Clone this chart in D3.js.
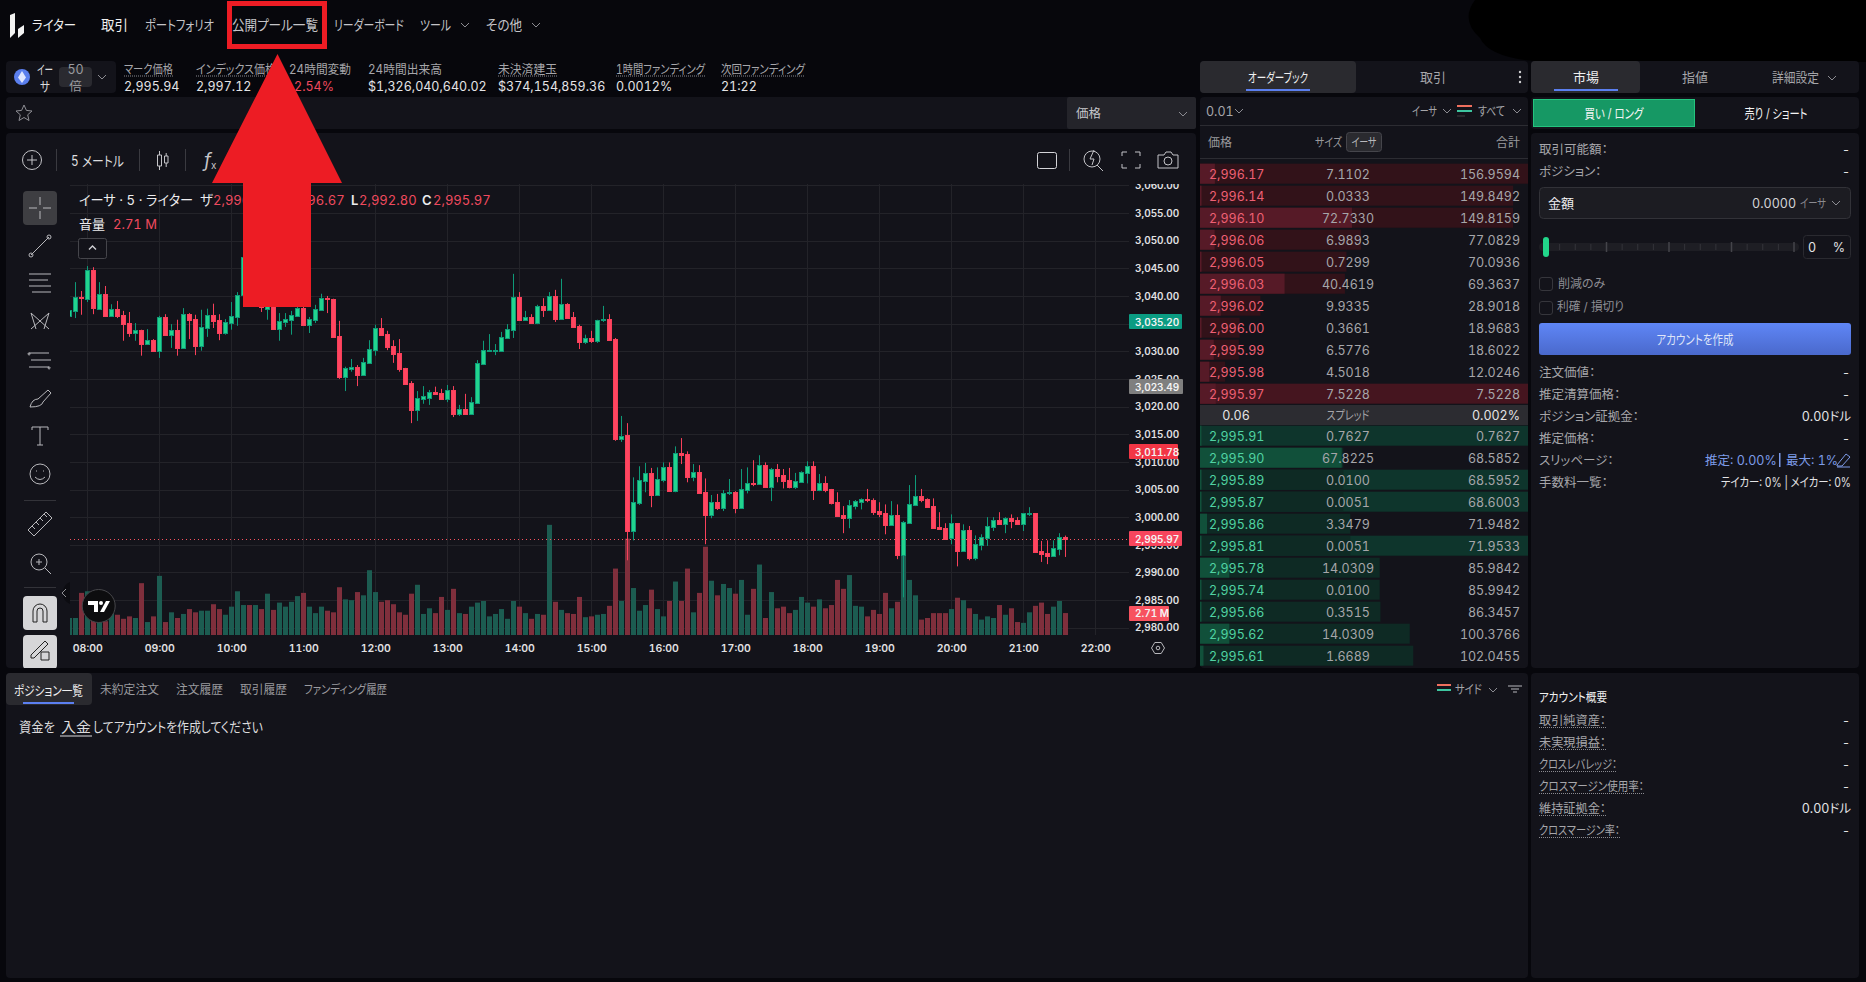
<!DOCTYPE html>
<html lang="ja">
<head>
<meta charset="utf-8">
<title>ライター</title>
<script src="https://cdn.jsdelivr.net/npm/d3@7"></script>
<style>
  html, body { margin: 0; background: #07070c; overflow: hidden; }
  svg { display: block; }
  text { font-family: Inter, "Noto Sans CJK JP", sans-serif; font-feature-settings: "palt", "tnum"; }
</style>
</head>
<body>
<div id="app"></div>
<script>
// Candles, 5 minutes each, the first one starts at 07:45
const opens = [3036.4,3037.3,3039.8,3039.5,3044.7,3037.7,3040.4,3036.4,3037.7,3036.6,3035.1,3033.3,3033.9,3031.3,3032.0,3030.1,3036.2,3033.0,3033.9,3030.6,3036.7,3035.8,3031.0,3034.2,3036.6,3035.7,3033.3,3035.1,3036.2,3040.2,3046.0,3041.0,3043.0,3037.5,3040.0,3034.0,3035.3,3035.7,3036.4,3037.8,3034.8,3035.7,3037.5,3039.6,3039.5,3032.8,3025.4,3026.8,3027.2,3025.7,3027.9,3030.2,3034.2,3033.1,3031.0,3029.7,3027.0,3024.3,3019.4,3021.4,3021.7,3022.7,3022.5,3021.4,3023.0,3018.7,3019.6,3018.7,3020.7,3027.7,3030.1,3030.1,3030.1,3032.4,3033.9,3039.8,3035.7,3036.2,3035.1,3038.2,3037.5,3040.0,3035.8,3038.6,3036.2,3034.6,3031.7,3032.4,3031.9,3035.7,3035.8,3032.2,3014.1,3014.8,2997.5,3002.5,3006.5,3008.0,3004.0,3006.7,3009.0,3004.7,3011.6,3011.4,3007.2,3008.1,3004.5,3000.4,3002.7,3001.6,3004.3,3004.5,3001.6,3004.9,3006.1,3006.0,3009.4,3005.4,3008.7,3007.6,3006.7,3005.4,3006.3,3008.0,3009.2,3004.9,3006.1,3005.1,3002.7,3000.4,2999.8,3002.0,3002.7,3003.3,3003.1,3001.1,3000.7,2998.6,3000.4,2993.1,2998.9,3002.2,3003.8,3003.3,3002.0,2998.2,2998.0,2996.2,2998.9,2993.9,2997.7,2992.6,2994.9,2996.2,2998.2,2999.5,2998.7,2999.8,2999.5,2998.7,3000.5,3000.7,2993.9,2993.5,2993.0,2994.2,2996.4];
const highs = [3038.1,3042.5,3040.9,3045.4,3045.2,3042.5,3041.8,3038.5,3039.1,3037.3,3037.1,3035.1,3033.9,3034.0,3032.2,3036.4,3036.7,3034.9,3035.7,3037.8,3036.9,3036.6,3037.5,3037.7,3038.6,3036.7,3035.8,3038.9,3040.7,3047.0,3047.2,3044.0,3044.0,3042.0,3041.0,3036.9,3036.9,3037.3,3038.6,3038.6,3036.2,3038.4,3040.4,3040.0,3039.5,3035.5,3027.2,3028.6,3027.5,3028.8,3032.0,3034.8,3036.0,3033.7,3032.0,3032.2,3027.0,3024.6,3022.8,3023.7,3023.0,3023.6,3023.2,3023.9,3023.7,3020.3,3022.3,3021.7,3028.4,3031.9,3033.1,3031.3,3033.5,3034.9,3044.0,3040.7,3037.3,3036.7,3038.4,3039.6,3040.7,3041.1,3043.1,3038.7,3037.1,3034.8,3033.0,3033.7,3035.7,3038.2,3036.7,3032.4,3018.3,3017.0,3007.2,3009.2,3009.8,3008.9,3009.0,3009.9,3009.9,3012.8,3014.3,3011.9,3009.6,3009.4,3007.0,3004.0,3004.2,3004.9,3006.9,3004.7,3008.7,3009.0,3010.3,3011.2,3009.9,3008.9,3009.6,3008.7,3008.9,3008.0,3008.3,3010.1,3010.1,3007.8,3007.4,3005.1,3004.5,3002.0,3003.1,3003.1,3003.4,3005.1,3003.4,3002.7,3002.3,3002.9,3002.3,2999.3,3005.8,3007.6,3005.1,3003.4,3003.4,3000.9,2998.9,3000.5,2998.9,2998.7,2998.4,2996.7,2996.9,3000.0,3000.0,3000.9,3000.0,3000.5,3000.0,3000.7,3001.8,3000.7,2995.7,2995.8,2995.8,2997.1,2996.67];
const lows = [3036.3,3036.0,3036.6,3038.9,3036.7,3037.6,3036.4,3036.4,3036.0,3031.9,3032.6,3031.9,3029.2,3031.3,3030.1,3028.8,3033.0,3030.6,3029.2,3030.6,3032.2,3029.3,3030.1,3032.6,3034.2,3032.0,3033.0,3033.9,3034.6,3039.6,3041.0,3040.0,3037.1,3035.7,3034.0,3031.9,3034.4,3033.0,3036.2,3034.8,3033.3,3035.1,3037.3,3036.9,3032.6,3025.0,3022.8,3026.3,3023.7,3025.7,3027.9,3029.2,3032.8,3030.2,3027.9,3026.3,3024.1,3017.0,3017.4,3020.5,3020.3,3022.1,3021.4,3020.8,3018.1,3018.3,3018.7,3018.5,3020.7,3027.5,3030.1,3029.3,3030.1,3032.4,3032.4,3035.7,3035.7,3035.1,3034.9,3036.2,3037.5,3035.3,3035.8,3036.0,3034.4,3030.4,3031.3,3031.5,3031.5,3035.3,3032.0,3013.8,3013.6,2992.2,2995.8,3002.2,3004.5,3001.8,3004.0,3006.3,3004.7,3004.5,3009.6,3006.3,3006.5,3004.3,2995.1,2999.8,3001.3,3001.1,3004.0,3000.7,3001.6,3004.3,3005.6,3006.0,3005.4,3002.9,3006.3,3005.2,3005.2,3005.1,3006.3,3006.1,3003.1,3004.7,3004.5,3002.3,3000.2,2997.1,2998.0,3001.4,3001.4,3002.7,3000.4,3000.0,2996.9,2998.6,2992.4,2985.5,2998.9,3002.0,3002.7,3001.8,2998.0,2997.8,2996.1,2995.1,2991.1,2993.9,2992.2,2992.2,2994.0,2994.8,2997.5,2998.7,2997.1,2998.0,2998.7,2997.5,3000.2,2993.7,2991.9,2991.5,2992.8,2993.1,2992.80];
const closes = [3037.4,3039.8,3039.7,3044.7,3037.8,3040.4,3036.4,3037.7,3036.4,3034.9,3033.3,3033.9,3031.3,3032.0,3030.1,3036.2,3033.0,3033.9,3030.6,3036.7,3035.7,3031.0,3034.4,3036.6,3035.5,3033.3,3035.3,3036.4,3040.2,3047.0,3041.5,3043.0,3038.0,3041.0,3034.0,3035.5,3035.8,3036.6,3037.8,3034.8,3035.8,3037.7,3039.6,3039.5,3032.6,3025.4,3027.0,3027.2,3025.7,3028.1,3030.4,3034.2,3033.0,3030.8,3029.5,3026.8,3024.1,3019.4,3021.6,3021.9,3022.7,3022.3,3021.4,3023.0,3018.7,3019.6,3018.7,3020.8,3027.9,3030.2,3030.2,3030.2,3032.6,3034.0,3039.8,3035.7,3036.2,3035.1,3038.2,3037.5,3040.0,3035.8,3038.6,3036.0,3034.4,3031.7,3032.4,3031.9,3035.7,3035.8,3032.0,3014.1,3014.7,2997.5,3002.7,3006.7,3008.0,3004.0,3006.9,3009.0,3004.7,3011.6,3011.2,3007.2,3008.1,3004.3,3000.4,3002.7,3001.6,3004.3,3004.5,3001.6,3005.1,3006.1,3006.0,3009.4,3005.4,3008.7,3007.4,3006.5,3005.4,3006.5,3008.1,3009.2,3004.9,3006.1,3004.9,3002.5,3000.2,2999.8,3002.2,3002.9,3003.3,3003.1,3000.9,3000.5,2998.6,3000.4,2993.1,2999.1,3002.3,3003.8,3003.1,3001.8,2998.0,2997.8,2996.1,2998.9,2993.9,2997.7,2992.6,2995.1,2996.4,2998.4,2999.5,2998.7,2999.8,2999.3,2998.7,3000.7,3000.7,2993.7,2993.3,2993.0,2994.4,2996.4,2995.97];
// Volume in millions
const volumes = [2.1,2.1,5.2,5.4,4.3,4.3,1.7,2.7,2.5,2.0,2.3,2.1,6.4,1.6,2.3,7.3,1.6,2.8,2.1,2.6,3.2,2.8,3.0,3.0,3.8,3.2,2.5,3.5,5.4,3.7,3.7,3.7,3.2,5.1,3.1,4.0,3.5,4.1,4.8,5.2,3.5,2.7,3.5,3.0,2.8,5.9,4.4,4.3,5.3,4.9,8.0,5.3,4.1,4.3,3.8,2.8,2.5,5.1,6.2,2.6,3.3,2.7,4.7,3.1,5.7,2.7,2.6,3.5,4.0,4.2,2.3,2.6,3.2,2.0,4.2,3.5,2.7,2.0,2.6,2.5,13.6,4.1,3.1,2.7,2.6,4.7,2.2,2.3,2.5,2.6,3.6,8.2,4.2,11.9,5.8,3.0,3.7,5.6,3.2,2.3,4.2,6.6,4.2,8.2,2.8,5.2,10.9,6.7,4.9,6.3,5.8,5.1,6.8,2.5,5.7,8.7,2.1,5.3,3.3,3.5,2.7,3.1,4.7,4.0,3.5,4.4,3.3,3.7,6.8,5.7,7.4,3.6,3.5,2.3,3.1,2.6,5.2,3.3,4.1,10.9,6.8,4.9,1.9,2.1,2.7,2.7,2.7,3.2,4.6,4.3,3.3,2.6,1.9,2.3,2.1,3.7,2.5,3.3,1.6,1.5,2.8,3.6,4.0,2.6,3.5,4.2,2.71];
const firstCandleHour = 7.75;
const hourTicks = [8,9,10,11,12,13,14,15,16,17,18,19,20,21,22];
const priceTicks = [3060,3055,3050,3045,3040,3035,3030,3025,3020,3015,3010,3005,3000,2995,2990,2985,2980];

// Order book
const askPrices = ["2,996.17","2,996.14","2,996.10","2,996.06","2,996.05","2,996.03","2,996.02","2,996.00","2,995.99","2,995.98","2,995.97"];
const askSizes = [7.1102,0.0333,72.7330,6.9893,0.7299,40.4619,9.9335,0.3661,6.5776,4.5018,7.5228];
const askTotals = [156.9594,149.8492,149.8159,77.0829,70.0936,69.3637,28.9018,18.9683,18.6022,12.0246,7.5228];
const bidPrices = ["2,995.91","2,995.90","2,995.89","2,995.87","2,995.86","2,995.81","2,995.78","2,995.74","2,995.66","2,995.62","2,995.61"];
const bidSizes = [0.7627,67.8225,0.0100,0.0051,3.3479,0.0051,14.0309,0.0100,0.3515,14.0309,1.6689];
const bidTotals = [0.7627,68.5852,68.5952,68.6003,71.9482,71.9533,85.9842,85.9942,86.3457,100.3766,102.0455];
const askFlashRows = [10];
const bidFlashRows = [0,2,3,5];

// Header stats
const statLabels = ["マーク価格","インデックス価格","24時間変動","24時間出来高","未決済建玉","1時間ファンディング","次回ファンディング"];
const statValues = ["2,995.94","2,997.12","-2.54%","$1,326,040,640.02","$374,154,859.36","0.0012%","21:22"];
const statDotted = [true,true,false,false,true,true,true];
const navItems = ["取引","ポートフォリオ","公開プール一覧","リーダーボード","ツール","その他"];
const historyTabs = ["未約定注文","注文履歴","取引履歴","ファンディング履歴"];
const orderRowsTop = ["取引可能額：","ポジション："];
const orderRowsBottom = ["注文価値：","推定清算価格：","ポジション証拠金：","推定価格：","スリッページ：","手数料一覧："];
const accountRows = ["取引純資産：","未実現損益：","クロスレバレッジ：","クロスマージン使用率：","維持証拠金：","クロスマージン率："];
const accountValues = ["-","-","-","-","0.00ドル","-"];

const W = 1866, H = 982;
const panelFill = "#13131a", tabFill = "#2a2a2f", blue = "#5b7ff0";
const greyText = "#a6a6aa", lightText = "#e4e4e6";
const upBody = "#22d48e", upEdge = "#0e9a78", downBody = "#ff4560", downEdge = "#f7405a";

const svg = d3.select("#app").append("svg").attr("width", W).attr("height", H);
svg.append("rect").attr("width", W).attr("height", H).attr("fill", "#07070c");

function panel(x, y, w, h, fill = panelFill, r = 4) {
  return svg.append("rect").attr("x", x).attr("y", y).attr("width", w).attr("height", h).attr("rx", r).attr("fill", fill);
}

// text helper, w squeezes the text to the width it has in the screenshot
function label(x, y, s, o = {}) {
  const t = svg.append("text").attr("x", x).attr("y", y).attr("dy", "0.36em")
    .attr("font-size", o.size || 12.5)
    .attr("font-weight", o.weight || 400)
    .attr("fill", o.fill || greyText)
    .attr("text-anchor", o.anchor || "start")
    .text(s);
  if (o.w) t.attr("textLength", o.w).attr("lengthAdjust", "spacingAndGlyphs");
  return t;
}

function dotted(x1, x2, y, color = "#8a8a90") {
  svg.append("line").attr("x1", x1).attr("x2", x2).attr("y1", y).attr("y2", y)
    .attr("stroke", color).attr("stroke-dasharray", "1 1");
}

function icon(d, x, y, o = {}) {
  return svg.append("path").attr("d", d).attr("transform", `translate(${x},${y})`)
    .attr("fill", o.fill || "none").attr("stroke", o.stroke || "#b8b8bc").attr("stroke-width", o.sw || 1);
}

function chevron(x, y, color = "#8c8c92") {
  icon("M-4-2L0 2L4-2", x, y, { stroke: color });
}

// ---------- top bar ----------
icon("M10 15L15 13V33L10 38Z", 0, 0, { fill: "#f2f2f2", stroke: "none" });
icon("M18 29L24 25V33L18 38Z", 0, 0, { fill: "#f2f2f2", stroke: "none" });
label(32, 25, "ライター", { size: 14, fill: "#f0f0f0", w: 44 });
const navX = [101,145,232,334,420,486], navW = [27,69,86,70,31,36];
navItems.forEach((s, i) => label(navX[i], 25, s, { size: 14, fill: i == 0 ? "#f0f0f0" : "#c4c4c8", w: navW[i] }));
chevron(465, 25); chevron(536, 25);
svg.append("path").attr("d", "M1475 0Q1460 20 1480 38Q1490 60 1550 62H1866V0Z").attr("fill", "#000");

// ---------- symbol and stats strip ----------
panel(6, 61, 110, 32);
svg.append("circle").attr("cx", 22).attr("cy", 77).attr("r", 8).attr("fill", "#5b7fee");
icon("M0-6L4 0.5L0 6L-4 0.5Z", 22, 77, { fill: "#dfe6ff", stroke: "none" });
label(37, 69, "イー", { size: 13, fill: "#dcdcde", w: 16 });
label(40, 86, "サ", { size: 13, fill: "#dcdcde", w: 10 });
panel(59, 67, 33, 20, "#2a2a30");
label(75.5, 69, "50", { anchor: "middle", size: 12.5, fill: "#9a9a9e" });
label(75.5, 86, "倍", { anchor: "middle", size: 12.5, fill: "#9a9a9e" });
chevron(102, 77);
const statX = [124,196,289,368,498,616,721], statW = [49,80,62,74,59,89,84];
statLabels.forEach((s, i) => {
  label(statX[i], 69, s, { size: 12.5, w: statW[i] });
  if (statDotted[i]) dotted(statX[i], statX[i] + statW[i], 76);
});
statValues.forEach((s, i) => {
  if (i == 2) label(334, 86, s, { size: 12.5, anchor: "end", fill: "#ef4a5e" });
  else label(statX[i], 86, s, { size: 12.5, fill: lightText });
});

// ---------- favourite row ----------
panel(6, 97, 1190, 32);
icon("M0-8L2.4-2.6L8-2L3.7 1.8L5 7.5L0 4.5L-5 7.5L-3.7 1.8L-8-2L-2.4-2.6Z", 24, 113, { stroke: "#8e8e94" });
panel(1067, 97, 129, 32, "#24242a", 2);
label(1076, 113, "価格", { size: 12.5, fill: "#c8c8cc" });
chevron(1183, 114);

// ---------- chart panel ----------
panel(6, 133, 1190, 535);
const plot = { left: 70, right: 1129, top: 184, bottom: 635 };

const x = d3.scaleLinear().domain([8, 22]).range([87.3, 1095.3]);
const y = d3.scaleLinear().domain([3045, 2980]).range([268.3, 627.75]);
const vol = d3.scaleLinear().domain([0, 1]).range([plot.bottom, plot.bottom - 8.1]);
const candleX = i => Math.floor(x(firstCandleHour + i / 12));

const defs = svg.append("defs");
defs.append("clipPath").attr("id", "plotClip").append("rect")
  .attr("x", plot.left).attr("y", plot.top).attr("width", plot.right - plot.left).attr("height", plot.bottom - plot.top);
defs.append("clipPath").attr("id", "axisClip").append("rect")
  .attr("x", -10).attr("y", plot.top).attr("width", 80).attr("height", H);
defs.append("clipPath").attr("id", "toolClip").append("rect")
  .attr("x", 6).attr("y", 133).attr("width", 70).attr("height", 535);
const btnGrad = defs.append("linearGradient").attr("id", "btnGrad").attr("x2", 0).attr("y2", 1);
btnGrad.append("stop").attr("offset", 0).attr("stop-color", "#5f86f6");
btnGrad.append("stop").attr("offset", 1).attr("stop-color", "#4a69cc");

const plotG = svg.append("g").attr("clip-path", "url(#plotClip)");
plotG.append("g").selectAll("line").data(priceTicks).join("line")
  .attr("x1", plot.left).attr("x2", plot.right)
  .attr("y1", d => Math.round(y(d)) + 0.5).attr("y2", d => Math.round(y(d)) + 0.5)
  .attr("stroke", "#232329");
plotG.append("g").selectAll("line").data(hourTicks).join("line")
  .attr("x1", d => Math.floor(x(d)) + 0.5).attr("x2", d => Math.floor(x(d)) + 0.5)
  .attr("y1", plot.top).attr("y2", plot.bottom)
  .attr("stroke", "#232329");

const isUp = i => closes[i] >= opens[i];
const candleIdx = d3.range(opens.length);

plotG.append("g").selectAll("rect").data(candleIdx).join("rect")
  .attr("x", i => candleX(i) - 2).attr("width", 5)
  .attr("y", i => vol(volumes[i])).attr("height", i => plot.bottom - vol(volumes[i]))
  .attr("fill", i => isUp(i) ? "#1c6054" : "#85303e").attr("fill-opacity", 0.95);

// current price line
svg.append("line").attr("x1", plot.left).attr("x2", plot.right)
  .attr("y1", Math.round(y(closes[closes.length - 1])) + 0.5).attr("y2", Math.round(y(closes[closes.length - 1])) + 0.5)
  .attr("stroke", "#f7525f").attr("stroke-dasharray", "1 3");

plotG.append("g").selectAll("line").data(candleIdx).join("line")
  .attr("x1", i => candleX(i) + 0.5).attr("x2", i => candleX(i) + 0.5)
  .attr("y1", i => y(highs[i])).attr("y2", i => y(lows[i]))
  .attr("stroke", i => isUp(i) ? upEdge : downEdge);
plotG.append("g").selectAll("rect").data(candleIdx).join("rect")
  .attr("x", i => candleX(i) - 1.5).attr("width", 4)
  .attr("y", i => Math.round(y(Math.max(opens[i], closes[i]))) + 0.5)
  .attr("height", i => Math.max(1, Math.round(y(Math.min(opens[i], closes[i])) - y(Math.max(opens[i], closes[i])))))
  .attr("fill", i => isUp(i) ? upBody : downBody)
  .attr("stroke", i => isUp(i) ? upEdge : downEdge);

// price and time axes
const priceAxis = svg.append("g").attr("transform", `translate(${plot.right},0)`)
  .attr("clip-path", "url(#axisClip)")
  .call(d3.axisRight(y).tickValues(priceTicks).tickSize(0).tickPadding(6).tickFormat(d3.format(",.2f")));
const timeAxis = svg.append("g").attr("transform", "translate(0,636)")
  .call(d3.axisBottom(x).tickValues(hourTicks).tickSize(0).tickPadding(9).tickFormat(d => `${String(d).padStart(2, "0")}:00`));
[priceAxis, timeAxis].forEach(a => {
  a.select(".domain").remove();
  a.selectAll("text").attr("fill", "#e2e2e4").attr("font-weight", 600).attr("font-family", "Inter");
});
priceAxis.selectAll("text").attr("font-size", 10);
timeAxis.selectAll("text").attr("font-size", 10.5);

const priceTags = [
  { v: 3035.20, fill: "#0b9c82", w: 53 },
  { v: 3023.49, fill: "#7f7f7f", w: 54 },
  { v: 3011.78, fill: "#f23645", w: 49 },
  { v: 2995.97, fill: "#f7455d", w: 53 }
];
priceTags.forEach(d => {
  panel(plot.right, Math.round(y(d.v)) - 8, d.w, 15, d.fill, 1);
  label(plot.right + 6, y(d.v), d3.format(",.2f")(d.v), { size: 10, weight: 600, fill: "#f4f4f4" });
});
panel(plot.right, vol(2.71) - 7, 40, 15, "#f7525f", 1);
label(plot.right + 6, vol(2.71) + 0.5, "2.71 M", { size: 10, weight: 600, fill: "#f4f4f4" });
icon("M-6.5 0L-3.2-5.5H3.2L6.5 0L3.2 5.5H-3.2Z", 1158, 648);
svg.append("circle").attr("cx", 1158).attr("cy", 648).attr("r", 1.8).attr("fill", "none").attr("stroke", "#b8b8bc");

// chart legend
label(79, 200, "イーサ · 5 · ライター", { size: 13.5, fill: "#ececee", w: 114 });
label(200, 200, "ザ", { size: 13.5, fill: "#ececee" });
label(213, 200, "2,996.45", { size: 13, fill: "#ef4a5e" });
label(277, 200, "H", { size: 13, fill: "#ececee", weight: 600 });
label(287, 200, "2,996.67", { size: 13, fill: "#ef4a5e" });
label(351, 200, "L", { size: 13, fill: "#ececee", weight: 600 });
label(359, 200, "2,992.80", { size: 13, fill: "#ef4a5e" });
label(422, 200, "C", { size: 13, fill: "#ececee", weight: 600 });
label(433, 200, "2,995.97", { size: 13, fill: "#ef4a5e" });
label(79, 224, "音量", { size: 13, fill: "#ececee" });
label(113, 224, "2.71 M", { size: 13, fill: "#ef4a5e" });
svg.append("rect").attr("x", 78.5).attr("y", 238.5).attr("width", 28).attr("height", 20).attr("rx", 2)
  .attr("fill", panelFill).attr("stroke", "#45454b");
icon("M-3.5 1.5L0-2L3.5 1.5", 92.5, 248, { stroke: "#d0d0d4", sw: 1.4 });

// chart toolbar
const tb = { stroke: "#c4c4c8" };
svg.append("circle").attr("cx", 32).attr("cy", 160).attr("r", 9.5).attr("fill", "none").attr("stroke", "#c4c4c8");
icon("M-5 0H5M0-5V5", 32, 160, tb);
[56.5, 139.5, 185.5, 1069.5].forEach(sx => svg.append("line").attr("x1", sx).attr("x2", sx).attr("y1", 149).attr("y2", 171).attr("stroke", "#3a3a40"));
label(71, 161, "5 メートル", { size: 14, fill: "#dcdcde", w: 53 });
icon("M-3.5-5H0.5V6H-3.5ZM-1.5-9V-5M-1.5 6V10M3.5-4H7V3H3.5ZM5.2-7V-4M5.2 3V7", 161, 160, tb);
label(204, 160, "f", { size: 19, fill: "#c4c4c8" }).attr("font-style", "italic");
label(211, 165, "x", { size: 10, fill: "#c4c4c8" });
svg.append("rect").attr("x", 1037.5).attr("y", 152.5).attr("width", 19).attr("height", 16).attr("rx", 2).attr("fill", "none").attr("stroke", "#d4d4d8");
svg.append("circle").attr("cx", 1092).attr("cy", 159).attr("r", 8).attr("fill", "none").attr("stroke", "#c4c4c8");
icon("M5 6L11 12M2-9L-2 0H2L0 6", 1092, 159, tb);
icon("M-9-4V-8H-4M4-8H9V-4M9 4V8H4M-4 8H-9V4", 1131, 160, tb);
icon("M-10-5H-4L-2-8H3L5-5H10V8H-10Z", 1168, 160, tb);
svg.append("circle").attr("cx", 1168).attr("cy", 161).attr("r", 4).attr("fill", "none").attr("stroke", "#c4c4c8");

// drawing tools on the left
const tools = svg.append("g").attr("clip-path", "url(#toolClip)");
const toolIcon = (d, ty) => tools.append("path").attr("d", d).attr("transform", `translate(40,${ty})`)
  .attr("fill", "none").attr("stroke", "#b8b8bc");
tools.append("rect").attr("x", 23).attr("y", 191).attr("width", 34).attr("height", 34).attr("rx", 4).attr("fill", "#3e3e42");
toolIcon("M-11 0H-3M3 0H11M0-11V-3M0 3V11", 208);
toolIcon("M-9 9L9-9M-11 9a2 2 0 1 0 4 0a2 2 0 1 0 -4 0M7-9a2 2 0 1 0 4 0a2 2 0 1 0 -4 0", 246);
toolIcon("M-11-9H11M-11-3H8M-11 3H11M-8 9H11", 283);
toolIcon("M-9-8L-4 8M-9-8L9 8M9-8L-9 8M9-8L4 8", 321);
toolIcon("M-11-7H9M-9 0H11M-11 7H9M-11-7a1 1 0 1 0 0.1 0M9 7a1 1 0 1 0 0.1 0", 360);
toolIcon("M-10 9Q-8 1-2 1L8-8L11-5L3 4Q2 9-10 9Z", 398);
toolIcon("M-8-6V-9H8V-6M0-9V9M-3 9H3", 436);
toolIcon("M-10 0a10 10 0 1 0 20 0a10 10 0 1 0 -20 0M-4-3h1M3-3h1M-5 3Q0 8 5 3", 474);
tools.append("line").attr("x1", 24).attr("x2", 56).attr("y1", 500.5).attr("y2", 500.5).attr("stroke", "#333339");
toolIcon("M-12 6L6-12L12-6L-6 12ZM-8 2L-5 5M-4-2L-1 1M0-6L3-3M4-10L7-7", 524);
toolIcon("M-9 0a8 8 0 1 0 16 0a8 8 0 1 0 -16 0M5 6L11 12M-4 0H2M-1-3V3", 562);
tools.append("line").attr("x1", 24).attr("x2", 56).attr("y1", 587.5).attr("y2", 587.5).attr("stroke", "#333339");
tools.append("rect").attr("x", 23).attr("y", 596).attr("width", 34).attr("height", 34).attr("rx", 4).attr("fill", "#d6d6d8");
tools.append("path").attr("d", "M-7 9V-2a7 7 0 0 1 14 0V9H3V-2a3 3 0 0 0 -6 0V9Z").attr("transform", "translate(40,613)")
  .attr("fill", "none").attr("stroke", "#222");
tools.append("rect").attr("x", 23).attr("y", 635).attr("width", 34).attr("height", 34).attr("rx", 4).attr("fill", "#d6d6d8");
tools.append("path").attr("d", "M-8 7L6-7L9-4L-5 10H-8ZM2 4H10V12H2Z").attr("transform", "translate(39,648)")
  .attr("fill", "none").attr("stroke", "#222");
svg.append("path").attr("d", "M70 582a12 12 0 0 0 0 22Z").attr("fill", "#0c0c11");
icon("M2-4L-2 0L2 4", 64, 593, { stroke: "#8f8f94" });

// tradingview badge
svg.append("circle").attr("cx", 98.7).attr("cy", 606).attr("r", 16.5).attr("fill", "#0d0d0f").attr("stroke", "#47474b");
icon("M88 601H98V612H94V605H88Z", 0, 0, { fill: "#fff", stroke: "none" });
svg.append("circle").attr("cx", 101).attr("cy", 603).attr("r", 2).attr("fill", "#fff");
icon("M106 601H110L104 612H100Z", 0, 0, { fill: "#fff", stroke: "none" });

// ---------- order book ----------
panel(1200, 61, 328, 32);
panel(1200, 61, 156, 32, tabFill);
label(1278, 77, "オーダーブック", { anchor: "middle", size: 13, fill: "#f0f0f0", w: 60 });
panel(1246, 89, 64, 2, blue, 0);
label(1433, 77, "取引", { anchor: "middle", size: 13 });
[-5, 0, 5].forEach(dy => svg.append("circle").attr("cx", 1520).attr("cy", 77 + dy).attr("r", 1.2).attr("fill", "#d0d0d2"));

panel(1200, 97, 328, 571);
label(1206, 111, "0.01", { size: 12.5 });
chevron(1239, 111);
label(1412, 111, "イーサ", { size: 12.5, w: 25 });
chevron(1447, 111);
panel(1457, 105, 15, 2, "#ef6f5e", 0); panel(1457, 110, 15, 2, "#3ec6a0", 0); panel(1457, 115, 8, 2, "#2a2a2e", 0);
label(1478, 111, "すべて", { size: 12.5, w: 27 });
chevron(1517, 111);
svg.append("line").attr("x1", 1200).attr("x2", 1528).attr("y1", 125.5).attr("y2", 125.5).attr("stroke", "#2c2c32");
label(1208, 143, "価格", { size: 12, fill: "#9a9a9e" });
label(1315, 143, "サイズ", { size: 12, fill: "#9a9a9e", w: 27 });
svg.append("rect").attr("x", 1346.5).attr("y", 132.5).attr("width", 35).attr("height", 19).attr("rx", 3).attr("fill", "#2a2a2f").attr("stroke", "#45454b");
label(1364, 143, "イーサ", { anchor: "middle", size: 12, fill: "#b8b8bc", w: 25 });
label(1520, 143, "合計", { anchor: "end", size: 12, fill: "#9a9a9e" });
svg.append("line").attr("x1", 1200).attr("x2", 1528).attr("y1", 158.5).attr("y2", 158.5).attr("stroke", "#2c2c32");

const depth = d3.scaleLinear().domain([0, 156.9594]).range([0, 328]);
function bookRows(prices, sizes, totals, flash, y0, c) {
  prices.forEach((p, i) => {
    const cy = y0 + i * 22, top = cy - 10;
    if (flash.includes(i)) panel(1200, top, 328, 20, c.flash, 0);
    panel(1200, top, depth(totals[i]), 20, flash.includes(i) && c.keepFlash ? c.flash : c.depth, 0);
    panel(1200, top, Math.max(1.5, depth(sizes[i])), 20, c.size, 0);
    label(1209, cy + 0.5, p, { size: 12.5, fill: c.text });
    label(1348, cy + 0.5, sizes[i].toFixed(4), { size: 12.5, anchor: "middle" });
    label(1520, cy + 0.5, totals[i].toFixed(4), { size: 12.5, anchor: "end" });
  });
}
bookRows(askPrices, askSizes, askTotals, askFlashRows, 173.7,
  { depth: "#321219", flash: "#45151f", size: "#561a27", text: "#ee6074", keepFlash: true });
panel(1200, 405, 328, 20, "#2c2c31", 0);
label(1236, 415, "0.06", { anchor: "middle", size: 12.5, fill: lightText });
label(1348, 415, "スプレッド", { anchor: "middle", size: 12.5, w: 43 });
label(1520, 415, "0.002%", { anchor: "end", size: 12.5, fill: lightText });
bookRows(bidPrices, bidSizes, bidTotals, bidFlashRows, 435.7,
  { depth: "#0e2a24", flash: "#0e352c", size: "#11503a", text: "#50d3a2" });

// ---------- order form ----------
panel(1531, 61, 328, 32);
panel(1531, 61, 109, 32, tabFill);
label(1586, 77, "市場", { anchor: "middle", size: 13, fill: "#f0f0f0" });
panel(1554, 89, 64, 2, blue, 0);
label(1695, 77, "指値", { anchor: "middle", size: 13 });
label(1772, 77, "詳細設定", { size: 13, w: 47 });
chevron(1832, 78);
panel(1531, 97, 328, 32);
svg.append("rect").attr("x", 1533.5).attr("y", 99.5).attr("width", 161).attr("height", 27).attr("fill", "#169864").attr("stroke", "#23c47e");
label(1614, 113, "買い / ロング", { anchor: "middle", size: 13, fill: "#f4f4f4", w: 59 });
label(1776, 113, "売り / ショート", { anchor: "middle", size: 13, fill: "#f4f4f4", w: 63 });
panel(1531, 133, 328, 535);

orderRowsTop.forEach((s, i) => {
  label(1539, 149 + i * 22, s, { size: 12.5 });
  label(1850, 149 + i * 22, "-", { anchor: "end", size: 12.5, fill: lightText });
});
svg.append("rect").attr("x", 1539.5).attr("y", 187.5).attr("width", 311).attr("height", 31).attr("rx", 4).attr("fill", "#1c1c22").attr("stroke", "#323238");
label(1548, 203, "金額", { size: 13, fill: "#ececee" });
label(1796, 203, "0.0000", { anchor: "end", size: 12.5, fill: "#d4d4d8" });
label(1800, 203, "イーサ", { size: 12.5, w: 26, fill: "#8a8a90" });
chevron(1836, 203);

const slider = d3.scaleLinear().domain([0, 100]).range([1544, 1794]);
panel(1539, 243, 260, 8, "#1e1e24", 4);
svg.append("g").selectAll("line").data(d3.range(6.25, 100.1, 6.25)).join("line")
  .attr("x1", d => slider(d)).attr("x2", d => slider(d))
  .attr("y1", d => d % 25 == 0 ? 242 : 244).attr("y2", d => d % 25 == 0 ? 252 : 250)
  .attr("stroke", d => d % 25 == 0 ? "#44444a" : "#34343a").attr("stroke-width", d => d % 25 == 0 ? 1.5 : 1);
panel(1543, 237, 6, 20, "#22d68a", 3);
svg.append("rect").attr("x", 1803.5).attr("y", 235.5).attr("width", 47).attr("height", 23).attr("rx", 3).attr("fill", "none").attr("stroke", "#2a2a30");
label(1808, 247, "0", { size: 12.5, fill: lightText });
label(1845, 247, "%", { anchor: "end", size: 12.5, fill: lightText });
[277, 301].forEach(cy => svg.append("rect").attr("x", 1539.5).attr("y", cy + 0.5).attr("width", 13).attr("height", 13).attr("rx", 2.5).attr("fill", "none").attr("stroke", "#36363c"));
label(1558, 284, "削減のみ", { size: 12, fill: "#8e8e94" });
label(1557, 307, "利確 / 損切り", { size: 12, fill: "#8e8e94", w: 67 });
svg.append("rect").attr("x", 1539).attr("y", 323).attr("width", 312).attr("height", 32).attr("rx", 3).attr("fill", "url(#btnGrad)");
label(1695, 339, "アカウントを作成", { anchor: "middle", size: 13, fill: "#dfe5f8", w: 77 });

orderRowsBottom.forEach((s, i) => label(1539, 372 + i * 22, s, { size: 12.5 }));
[372, 394, 438].forEach(ry => label(1850, ry, "-", { anchor: "end", size: 12.5, fill: lightText }));
label(1851, 416, "0.00ドル", { anchor: "end", size: 12.5, fill: lightText });
label(1705, 460, "推定: 0.00%", { size: 12.5, fill: "#7d9be8" });
panel(1779, 453, 1.5, 14, "#7d9be8", 0);
label(1786, 460, "最大: 1%", { size: 12.5, fill: "#7d9be8" });
icon("M-6 6L3-5L7-2L-1 7H-6ZM-6 8H7", 1843, 459, { stroke: "#7d9be8" });
label(1851, 482, "テイカー: 0% | メイカー: 0%", { anchor: "end", size: 12.5, fill: lightText, w: 130 });

// ---------- positions panel ----------
panel(6, 673, 1522, 305);
panel(6, 673, 86, 32, tabFill);
label(14, 690, "ポジション一覧", { size: 13, fill: "#f0f0f0", w: 69 });
panel(23, 702, 51, 2, blue, 0);
const tabX = [100,176,240,304], tabW = [59,47,47,83];
historyTabs.forEach((s, i) => label(tabX[i], 690, s, { size: 12, w: tabW[i], fill: "#9a9a9e" }));
panel(1437, 684, 14, 2, "#ef6f5e", 0); panel(1437, 689, 14, 2, "#3ec6a0", 0);
label(1455, 689, "サイド", { size: 12.5, w: 27 });
chevron(1493, 690);
icon("M-7-3H7M-4 0H4M-2 3H2", 1515, 689);
label(19, 727, "資金を", { size: 14, fill: "#dcdcde", w: 36 });
label(61, 727, "入金", { size: 14, fill: "#dcdcde", w: 30 });
svg.append("line").attr("x1", 60).attr("x2", 92).attr("y1", 736).attr("y2", 736).attr("stroke", "#dcdcde");
label(93, 727, "してアカウントを作成してください", { size: 14, fill: "#dcdcde", w: 170 });

// ---------- account panel ----------
panel(1531, 673, 328, 305);
label(1539, 697, "アカウント概要", { size: 12.5, fill: "#f0f0f0", w: 68 });
const accountW = [67,67,78,105,67,81];
accountRows.forEach((s, i) => {
  const ry = 720 + i * 22;
  label(1539, ry, s, { size: 12.5, w: accountW[i] });
  dotted(1539, 1539 + accountW[i], ry + 7.5);
  label(i == 4 ? 1851 : 1850, ry, accountValues[i], { anchor: "end", size: 12.5, fill: lightText });
});

// ---------- annotation added on top of the screenshot ----------
svg.append("rect").attr("x", 229.5).attr("y", 3.5).attr("width", 95).attr("height", 43)
  .attr("fill", "none").attr("stroke", "#ed1c24").attr("stroke-width", 5);
svg.append("path").attr("d", "M277.5 54L342 183H311V307H243V183H212Z").attr("fill", "#ed1c24");
</script>
</body>
</html>
